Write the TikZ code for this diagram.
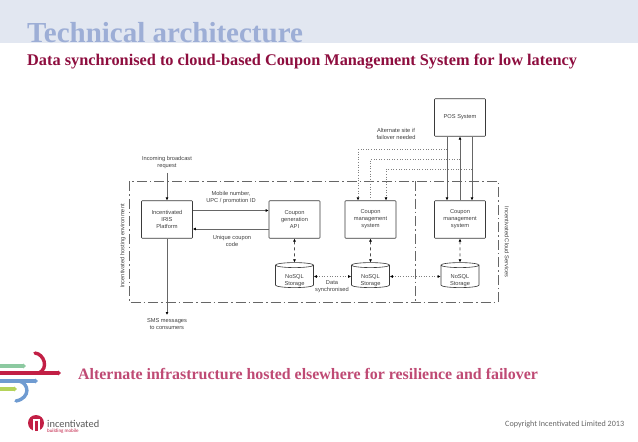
\documentclass[tikz,border=0pt]{standalone}
\usepackage{fontspec}
\setmainfont{Liberation Sans}
\newfontfamily\headfont{Liberation Serif}
\newfontfamily\copyfont{Carlito}
\usetikzlibrary{arrows.meta,shapes.geometric,calc}
\definecolor{headbg}{HTML}{E2E7F1}
\definecolor{headtxt}{HTML}{9DAED6}
\definecolor{subtxt}{HTML}{8E0E3F}
\definecolor{foottxt}{HTML}{BF4A74}
\definecolor{linegrey}{HTML}{3A3A3A}
\definecolor{logored}{HTML}{C21F45}
\definecolor{logogreen}{HTML}{8CC9A0}
\definecolor{logoblue}{HTML}{6F9BD1}
\definecolor{logolime}{HTML}{B5D35A}
\newcommand{\dbtext}{\raisebox{-3.5pt}[5pt][1pt]{NoSQL}\\\raisebox{-3.5pt}[5pt][1pt]{Storage}}
\tikzset{
  x=1pt,y=-1pt,
  comp/.style={draw=linegrey,line width=.6pt,rounded corners=.7pt,minimum width=51pt,minimum height=37.5pt,inner sep=0pt,align=center,font=\fontsize{5.7}{7}\selectfont,text=black!75},
  store/.style={draw=linegrey,line width=.6pt,cylinder,shape border rotate=90,aspect=.25,minimum width=38pt,minimum height=25pt,inner sep=0pt,align=center,font=\fontsize{5.7}{7}\selectfont,text=black!75},
  lab/.style={align=center,inner sep=0pt,font=\fontsize{5.7}{7}\selectfont,text=black!75},
  flow/.style={draw=black!60,line width=.8pt,-{Latex[length=3pt,width=3pt,color=black]}},
  syncflow/.style={draw=black!50,dotted,line width=.6pt,{Latex[length=3pt,width=3pt,color=black]}-{Latex[length=3pt,width=3pt,color=black]}},
  altflow/.style={draw=black!50,dotted,line width=.6pt},
  linkflow/.style={draw=black!70,dashed,line width=.6pt,{Latex[length=3pt,width=3pt,color=black]}-{Latex[length=3pt,width=3pt,color=black]}},
  zone/.style={draw=black!60,line width=.6pt,dash pattern=on 10pt off 3pt on 1.5pt off 3pt},
  swoosh/.style={line width=3.4pt,line cap=round},
  tipped/.style={line width=3.4pt,-{Triangle[length=3pt,width=5pt]}},
}
\begin{document}
\begin{tikzpicture}
\useasboundingbox (0,0) rectangle (638,442);
\fill[white] (0,0) rectangle (638,442);
\fill[headbg] (0,0) rectangle (638,43);
\node[anchor=base west,inner sep=0pt,text=headtxt,font=\headfont\bfseries\fontsize{29}{30}\selectfont] (title) at (27,42.5) {Technical architecture};
\node[anchor=base west,inner sep=0pt,text=subtxt,font=\headfont\bfseries\fontsize{16.3}{18}\selectfont] (sub) at (27,65) {Data synchronised to cloud-based Coupon Management System for low latency};
% zones
\coordinate (zTL) at (129,181);
\coordinate (zBR) at (498,302);
\coordinate (zT) at (415,181);
\coordinate (zB) at (415,302);
\draw[zone] (zTL) rectangle (zBR);
\draw[zone] (zT) -- (zB);
\node[lab,rotate=90] (envL) at (123,246) {Incentivated hosting environment};
\node[lab,rotate=-90] (envR) at (507,242) {Incentivated Cloud Services};
% nodes
\node[comp] (pos) at (460,117.5) {POS System};
\node[comp] (iris) at (167,219.5) {Incentivated\\IRIS\\Platform};
\node[comp] (api) at (294.5,219.5) {Coupon\\generation\\API};
\node[comp] (cm1) at (370.5,219.5) {Coupon\\management\\system};
\node[comp] (cm2) at (460,219.5) {Coupon\\management\\system};
\node[store] (db1) at (294.5,276.5) {\dbtext};
\node[store] (db2) at (370.5,276.5) {\dbtext};
\node[store] (db3) at (460,276.5) {\dbtext};
\node[lab] (incoming) at (167,162.5) {Incoming broadcast\\request};
\node[lab] (sms) at (167,324.5) {SMS messages\\to consumers};
\node[lab] (mobile) at (231,197.5) {Mobile number,\\UPC / promotion ID};
\node[lab] (unique) at (232,240.5) {Unique coupon\\code};
\node[lab] (alt) at (396,133.5) {Alternate site if\\failover needed};
\node[lab] (sync) at (332,286.5) {Data\\synchronised};
% connectors
\draw[flow] (incoming.south -| iris.north) ++(0,4) -- (iris.north);
\coordinate (smsEnd) at (167,315);
\draw[flow] (iris.south) -- (smsEnd);
\draw[flow] ([yshift=9pt]iris.east) -- ([yshift=9pt]api.west);
\draw[flow] ([yshift=-9.5pt]api.west) -- ([yshift=-9.5pt]iris.east);
\draw[flow] ([xshift=-13pt]pos.south) -- ([xshift=-13pt]cm2.north);
\draw[flow] (cm2.north) -- (pos.south);
\draw[flow] ([xshift=12pt]pos.south) -- ([xshift=12pt]cm2.north);
\coordinate (a1) at (447,149.5);
\coordinate (a2) at (460,159);
\coordinate (a3) at (472,169);
\draw[altflow,-{Latex[length=3pt,width=3pt,color=black]}] (a1) -- (358,149.5) -- ([xshift=-12.5pt]cm1.north);
\draw[altflow] (a2) -- (370.5,159) -- (cm1.north);
\draw[altflow,-{Latex[length=3pt,width=3pt,color=black]}] (a3) -- (386,169) -- ([xshift=15.5pt]cm1.north);
\draw[linkflow] (api.south) -- (db1.north);
\draw[linkflow] (cm1.south) -- (db2.north);
\draw[linkflow] (cm2.south) -- (db3.north);
\draw[syncflow] (db1.east) -- (db2.west);
\draw[syncflow] (db2.east) -- (db3.west);
% footer
\node[anchor=base west,inner sep=0pt,text=foottxt,font=\headfont\bfseries\fontsize{15.9}{18}\selectfont] (foot) at (78,379) {Alternate infrastructure hosted elsewhere for resilience and failover};
\node[anchor=base west,inner sep=0pt,text=black!60,font=\copyfont\fontsize{8.1}{9}\selectfont] (copy) at (505,426) {Copyright Incentivated Limited 2013};
% logo
\draw[tipped,logogreen] (0,366) -- (26,366);
\draw[tipped,logoblue] (0,381) -- (38,381);
\draw[tipped,logolime] (0,389) -- (17,389);
\draw[tipped,logored] (0,373) -- (61,373);
\draw[swoosh,logored] (35,353) .. controls (44,354) and (49,368) .. (39,373);
\draw[swoosh,logoblue] (19,381) .. controls (29,383) and (31,398) .. (16,401);
\fill[logored] (36,423) circle (8);
\fill[white] (33,419) rectangle (40,431);
\fill[logored] (35,421) rectangle (38,431);
\node[anchor=base west,inner sep=0pt,text=black!65,font=\copyfont\fontsize{10.4}{12}\selectfont] (brand) at (47,427) {incentivated};
\node[anchor=base west,inner sep=0pt,text=logored,font=\copyfont\fontsize{5}{6}\selectfont] (tag) at (47,432.5) {building mobile};
\end{tikzpicture}
\end{document}
